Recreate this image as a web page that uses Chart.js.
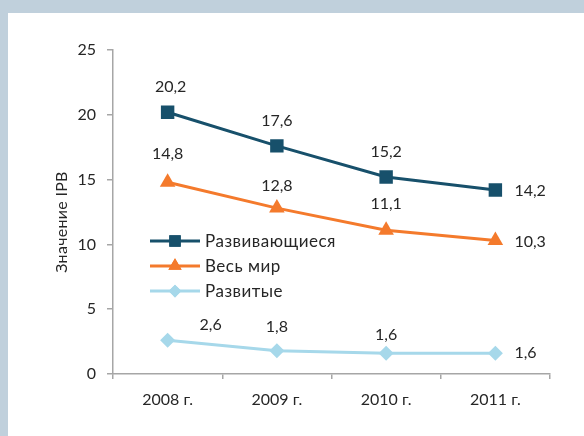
<!DOCTYPE html>
<html><head><meta charset="utf-8">
<script src="https://cdn.jsdelivr.net/npm/chart.js@4/dist/chart.umd.min.js"></script>
<style>
html,body{margin:0;padding:0;background:#c0d0dc;width:584px;height:436px;overflow:hidden}
#wrap{position:absolute;left:8px;top:13px;width:576px;height:423px;background:#fff}
canvas{display:block}
</style></head><body>
<div id="wrap"><canvas id="c" width="576" height="423"></canvas></div>
<script>
const categories = ['2008 г.', '2009 г.', '2010 г.', '2011 г.'];
const seriesNames = ['Развивающиеся', 'Весь мир', 'Развитые'];
const developing = [20.2, 17.6, 15.2, 14.2];
const world = [14.8, 12.8, 11.1, 10.3];
const developed = [2.6, 1.8, 1.6, 1.6];
const yTicks = [0, 5, 10, 15, 20, 25];
const yTitle = 'Значение IPB';

const FONT = 'Lato, "Open Sans", sans-serif';
const TXT = '#262626';
const colors = ['#17506b', '#f47a2c', '#a6d8ea'];
const styles = ['rect', 'triangle', 'rectRot'];
const radii = [9.5, 9, 7.5];
// label placement per point: [dx, dy, align]
const labelPlace = [
  [[3,-25,'center'],[0,-25,'center'],[0,-25,'center'],[19,1,'left']],
  [[0,-28,'center'],[0,-22,'center'],[0,-26,'center'],[19,1,'left']],
  [[43,-15,'center'],[0,-24,'center'],[0,-18,'center'],[19,0,'left']]
];

const labelsPlugin = {
  id: 'valLabels',
  afterDatasetsDraw(chart) {
    const ctx = chart.ctx;
    ctx.save();
    ctx.font = '16px ' + FONT;
    ctx.fillStyle = TXT;
    ctx.textBaseline = 'middle';
    chart.data.datasets.forEach((ds, di) => {
      const meta = chart.getDatasetMeta(di);
      meta.data.forEach((pt, i) => {
        const p = labelPlace[di][i];
        ctx.textAlign = p[2];
        ctx.fillText(String(ds.data[i]).replace('.', ','), pt.x + p[0], pt.y + p[1]);
      });
    });
    ctx.restore();
  }
};

const legendPlugin = {
  id: 'innerLegend',
  afterDatasetsDraw(chart) {
    const ctx = chart.ctx;
    const a = chart.chartArea;
    const x0 = a.left + 37, x1 = x0 + 50, xm = (x0 + x1) / 2;
    ctx.save();
    ctx.font = '17px ' + FONT;
    try { ctx.letterSpacing = '0.5px'; } catch (e) {}
    ctx.textBaseline = 'middle';
    ctx.textAlign = 'left';
    chart.data.datasets.forEach((ds, di) => {
      const y = a.top + 191 + di * 25;
      ctx.strokeStyle = ds.borderColor;
      ctx.lineWidth = 3;
      ctx.beginPath(); ctx.moveTo(x0, y); ctx.lineTo(x1, y); ctx.stroke();
      ctx.fillStyle = ds.borderColor;
      Chart.helpers.drawPoint(ctx, {pointStyle: ds.pointStyle, radius: ds.pointRadius * 0.85, borderWidth: 0}, xm, y);
      ctx.fill();
      ctx.fillStyle = TXT;
      ctx.fillText(ds.label, x1 + 5, y + 1);
    });
    // y axis title
    const yScale = chart.scales.y;
    ctx.save();
    ctx.font = '16px ' + FONT;
    try { ctx.letterSpacing = '0.3px'; } catch (e) {}
    ctx.translate(yScale.left + 54, (a.top + a.bottom) / 2 + 10);
    ctx.rotate(-Math.PI / 2);
    ctx.textAlign = 'center';
    ctx.textBaseline = 'middle';
    ctx.fillStyle = TXT;
    ctx.fillText(yTitle, 0, 0);
    ctx.restore();
    ctx.restore();
  }
};

new Chart(document.getElementById('c'), {
  type: 'line',
  data: {
    labels: categories,
    datasets: [developing, world, developed].map((d, i) => ({
      label: seriesNames[i],
      data: d,
      borderColor: colors[i],
      backgroundColor: colors[i],
      pointBackgroundColor: colors[i],
      pointBorderColor: colors[i],
      borderWidth: 3,
      pointStyle: styles[i],
      pointRadius: radii[i],
      pointBorderWidth: 0,
      tension: 0,
      fill: false
    }))
  },
  options: {
    responsive: false,
    animation: false,
    events: [],
    layout: { padding: { left: 0, top: 37, right: 34, bottom: 0 } },
    plugins: { legend: { display: false }, tooltip: { enabled: false } },
    scales: {
      x: {
        offset: true,
        grid: { offset: true, drawOnChartArea: false, drawTicks: true, tickLength: 5, color: '#a6a6a6', lineWidth: 1.5 },
        border: { color: '#a6a6a6', width: 1.5 },
        ticks: { color: TXT, font: { family: FONT, size: 16 }, padding: 11, maxRotation: 0 },
        afterFit(s) { s.height = 62; }
      },
      y: {
        min: 0, max: 25,
        afterBuildTicks(s) { s.ticks = yTicks.map(v => ({ value: v })); },
        grid: { drawOnChartArea: false, drawTicks: true, tickLength: 6, color: '#a6a6a6', lineWidth: 1.5 },
        border: { color: '#a6a6a6', width: 1.5 },
        ticks: { color: TXT, font: { family: FONT, size: 16 }, padding: 11 },
        title: { display: false, text: yTitle },
        afterFit(s) { s.width = 105; }
      }
    }
  },
  plugins: [labelsPlugin, legendPlugin]
});
</script>
</body></html>
